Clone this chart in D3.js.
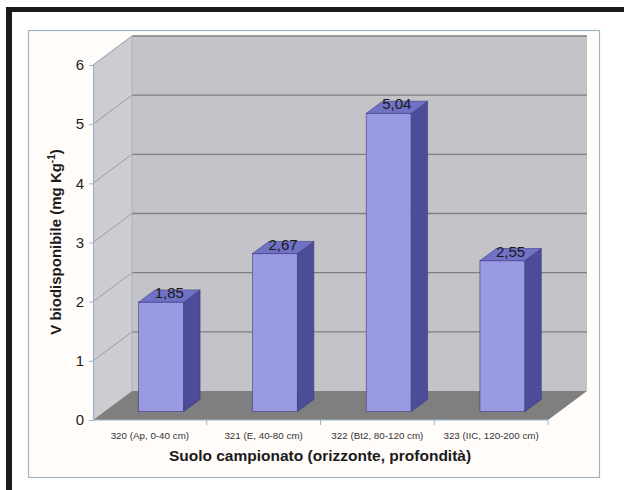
<!DOCTYPE html>
<html>
<head>
<meta charset="utf-8">
<script src="https://cdn.jsdelivr.net/npm/d3@7"></script>
<style>
  body { margin: 0; background: #ffffff; }
  svg { display: block; font-family: "Liberation Sans", Arial, sans-serif; }
</style>
</head>
<body>
<script>
//data
var categories = ["320 (Ap, 0-40 cm)", "321 (E, 40-80 cm)", "322 (Bt2, 80-120 cm)", "323 (IIC, 120-200 cm)"];
var values = [1.85, 2.67, 5.04, 2.55];
var valueLabels = ["1,85", "2,67", "5,04", "2,55"];
var yTicks = [0, 1, 2, 3, 4, 5, 6];

//canvas
var width = 624;
var height = 490;

//3d look: the back wall is shifted by depth_x / depth_y
var depth_x = 39;
var depth_y = -29;
var bar_front = 0.29;
var bar_back = 0.71;

//colours
var front_colour = "#9a9ae2";
var top_colour = "#7171c6";
var side_colour = "#4c4c98";
var edge_colour = "#3a3a80";
var wall_colour = "#c4c3c8";
var side_wall_colour = "#cdccd1";
var floor_colour = "#7f7f7f";
var grid_colour = "#7f7f82";
var axis_colour = "#9fb6c8";

var svg = d3.select("body").append("svg")
    .attr("width", width)
    .attr("height", height);

//black frame of the scanned figure (top and left side only visible)
svg.append("rect").attr("x", 6).attr("y", 7).attr("width", width - 6).attr("height", 5).attr("fill", "#1a1a1a");
svg.append("rect").attr("x", 6).attr("y", 7).attr("width", 6).attr("height", height - 7).attr("fill", "#1a1a1a");

//chart area border
svg.append("rect")
    .attr("x", 28.5).attr("y", 30.5)
    .attr("width", 571).attr("height", 447)
    .attr("fill", "#fffcfa")
    .attr("stroke", axis_colour)
    .attr("stroke-width", 1.2);

//scales on the front plane
var x = d3.scaleBand()
    .domain(categories)
    .range([93, 548])
    .paddingInner(0)
    .paddingOuter(0);

var y = d3.scaleLinear()
    .domain([0, 6])
    .range([420, 65]);

var x0 = x.range()[0], x1 = x.range()[1];
var yTop = y(6), yBottom = y(0);

function pts(list) {
    return list.map(function (p) { return p[0] + "," + p[1]; }).join(" ");
}

var walls = svg.append("g");

//left side wall
walls.append("polygon")
    .attr("points", pts([[x0, yTop], [x0 + depth_x, yTop + depth_y], [x0 + depth_x, yBottom + depth_y], [x0, yBottom]]))
    .attr("fill", side_wall_colour);

//back wall
walls.append("rect")
    .attr("x", x0 + depth_x).attr("y", yTop + depth_y)
    .attr("width", x1 - x0).attr("height", yBottom - yTop)
    .attr("fill", wall_colour);

//floor
walls.append("polygon")
    .attr("points", pts([[x0, yBottom], [x1, yBottom], [x1 + depth_x, yBottom + depth_y], [x0 + depth_x, yBottom + depth_y]]))
    .attr("fill", floor_colour);

//gridlines: back wall and the diagonal ones on the left wall
var grid = svg.append("g");
grid.selectAll("line.back")
    .data(yTicks.filter(function (d) { return d > 0; }))
    .enter().append("line")
    .attr("class", "back")
    .attr("x1", x0 + depth_x).attr("x2", x1 + depth_x)
    .attr("y1", function (d) { return y(d) + depth_y; })
    .attr("y2", function (d) { return y(d) + depth_y; })
    .attr("stroke", grid_colour).attr("stroke-width", 1.3);

grid.selectAll("line.side")
    .data(yTicks.filter(function (d) { return d > 0; }))
    .enter().append("line")
    .attr("class", "side")
    .attr("x1", x0).attr("x2", x0 + depth_x)
    .attr("y1", function (d) { return y(d); })
    .attr("y2", function (d) { return y(d) + depth_y; })
    .attr("stroke", "#8fa0b0").attr("stroke-width", 1);

//wall corner
grid.append("line")
    .attr("x1", x0 + depth_x).attr("x2", x0 + depth_x)
    .attr("y1", yTop + depth_y).attr("y2", yBottom + depth_y)
    .attr("stroke", "#a9b3bd").attr("stroke-width", 1);

//bars
var barWidth = 45;
var fdx = depth_x * bar_front, fdy = depth_y * bar_front;
var bdx = depth_x * bar_back, bdy = depth_y * bar_back;

var bars = svg.append("g").selectAll("g")
    .data(values)
    .enter().append("g");

function barLeft(i) { return x(categories[i]) + x.bandwidth() / 2 - barWidth / 2 + fdx; }

//front face
bars.append("rect")
    .attr("x", function (d, i) { return barLeft(i); })
    .attr("y", function (d) { return y(d) + fdy; })
    .attr("width", barWidth)
    .attr("height", function (d) { return y(0) - y(d); })
    .attr("fill", front_colour)
    .attr("stroke", edge_colour).attr("stroke-width", 0.6);

//side face
bars.append("polygon")
    .attr("points", function (d, i) {
        var l = barLeft(i) + barWidth, t = y(d) + fdy, b = y(0) + fdy;
        var ddx = bdx - fdx, ddy = bdy - fdy;
        return pts([[l, t], [l + ddx, t + ddy], [l + ddx, b + ddy], [l, b]]);
    })
    .attr("fill", side_colour)
    .attr("stroke", edge_colour).attr("stroke-width", 0.6);

//top face
bars.append("polygon")
    .attr("points", function (d, i) {
        var l = barLeft(i), t = y(d) + fdy;
        var ddx = bdx - fdx, ddy = bdy - fdy;
        return pts([[l, t], [l + barWidth, t], [l + barWidth + ddx, t + ddy], [l + ddx, t + ddy]]);
    })
    .attr("fill", top_colour)
    .attr("stroke", edge_colour).attr("stroke-width", 0.6);

//value labels
bars.append("text")
    .attr("x", function (d, i) { return barLeft(i) + barWidth / 2 + (bdx - fdx) / 2; })
    .attr("y", function (d) { return y(d) + (fdy + bdy) / 2 + 2; })
    .attr("text-anchor", "middle")
    .attr("font-size", 15)
    .attr("fill", "#1a1a1a")
    .text(function (d, i) { return valueLabels[i]; });

//y axis
var yAxis = svg.append("g")
    .attr("transform", "translate(" + x0 + ",0)")
    .call(d3.axisLeft(y).tickValues(yTicks).tickSize(4).tickPadding(5).tickFormat(d3.format("d")));
yAxis.selectAll("path, line").attr("stroke", axis_colour);
yAxis.select(".domain").attr("stroke-width", 1.2);
yAxis.selectAll("text")
    .attr("font-size", 15)
    .attr("font-family", "Liberation Sans, Arial, sans-serif")
    .attr("fill", "#1e1e1e");

//x axis, ticks on category boundaries
var xAxis = svg.append("g");
xAxis.append("line")
    .attr("x1", x0).attr("x2", x1)
    .attr("y1", yBottom).attr("y2", yBottom)
    .attr("stroke", axis_colour).attr("stroke-width", 1.2);
xAxis.selectAll("line.tick")
    .data(categories.slice(1).concat([null]))
    .enter().append("line")
    .attr("class", "tick")
    .attr("x1", function (d) { return d ? x(d) : x1; })
    .attr("x2", function (d) { return d ? x(d) : x1; })
    .attr("y1", yBottom).attr("y2", yBottom + 5)
    .attr("stroke", axis_colour);
xAxis.selectAll("text")
    .data(categories)
    .enter().append("text")
    .attr("x", function (d) { return x(d) + x.bandwidth() / 2; })
    .attr("y", yBottom + 19)
    .attr("text-anchor", "middle")
    .attr("font-size", 9.8)
    .attr("fill", "#333")
    .text(function (d) { return d; });

//axis titles
svg.append("text")
    .attr("x", 320)
    .attr("y", 461)
    .attr("text-anchor", "middle")
    .attr("font-size", 15.5)
    .attr("font-weight", "bold")
    .attr("fill", "#1a1a1a")
    .text("Suolo campionato (orizzonte, profondità)");

var yTitle = svg.append("text")
    .attr("transform", "translate(61,242) rotate(-90)")
    .attr("text-anchor", "middle")
    .attr("font-size", 15)
    .attr("font-weight", "bold")
    .attr("fill", "#1a1a1a");
yTitle.append("tspan").text("V biodisponibile (mg Kg");
yTitle.append("tspan").attr("font-size", 10).attr("dy", -6).text("-1");
yTitle.append("tspan").attr("dy", 6).text(")");
</script>
</body>
</html>
